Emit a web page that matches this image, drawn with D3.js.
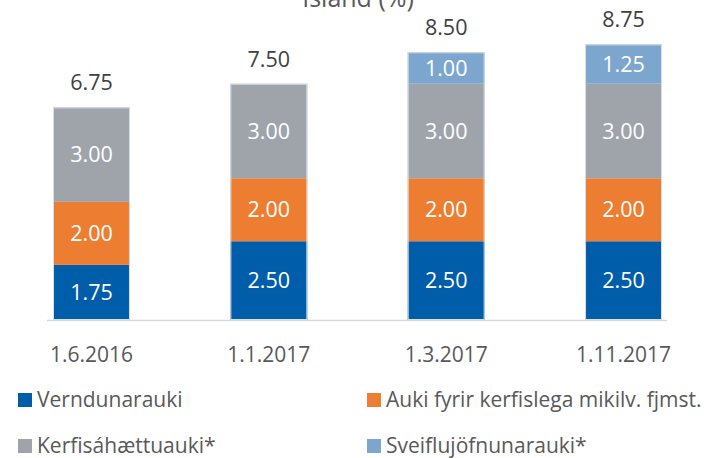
<!DOCTYPE html>
<html>
<head>
<meta charset="utf-8">
<script src="https://cdn.jsdelivr.net/npm/d3@7"></script>
<style>
  html, body { margin: 0; padding: 0; background: #fff; }
  svg { display: block; font-family: "Open Sans", "Lato", sans-serif; }
</style>
</head>
<body>
<svg id="chart" width="707" height="458"></svg>
<script>
const title = "Ísland (%)";
const categories = ["1.6.2016", "1.1.2017", "1.3.2017", "1.11.2017"];
const seriesNames = ["Verndunarauki", "Auki fyrir kerfislega mikilv. fjmst.", "Kerfisáhættuauki*", "Sveiflujöfnunarauki*"];
const verndunarauki = [1.75, 2.50, 2.50, 2.50];
const kerfislegaMikilv = [2.00, 2.00, 2.00, 2.00];
const kerfisahaettuauki = [3.00, 3.00, 3.00, 3.00];
const sveiflujofnunarauki = [0, 0, 1.00, 1.25];
const totals = [6.75, 7.50, 8.50, 8.75];
const colors = ["#005DAA", "#ED7D31", "#9EA4AA", "#7DA6CF"];

const seriesValues = [verndunarauki, kerfislegaMikilv, kerfisahaettuauki, sveiflujofnunarauki];
const rows = categories.map((c, i) => {
  const r = { cat: c, total: totals[i] };
  seriesNames.forEach((s, j) => r[s] = seriesValues[j][i]);
  return r;
});

const svg = d3.select("#chart");
const x = d3.scaleBand().domain(categories).range([53, 662]).paddingInner(0.566).paddingOuter(0);
const y = d3.scaleLinear().domain([0, 10]).range([320, 5]);

const stack = d3.stack().keys(seriesNames);
const stacked = stack(rows);

// baseline axis line
svg.append("line")
  .attr("x1", x(categories[0]) - 6).attr("x2", x(categories[3]) + x.bandwidth() + 5)
  .attr("y1", y(0) + 0.5).attr("y2", y(0) + 0.5)
  .attr("stroke", "#D9D9D9").attr("stroke-width", 1.5);

const layers = svg.append("g").selectAll("g").data(stacked).join("g")
  .attr("fill", (d, i) => colors[i]);

layers.selectAll("rect").data(d => d.filter(p => p[1] - p[0] > 0)).join("rect")
  .attr("x", d => x(d.data.cat))
  .attr("width", x.bandwidth())
  .attr("y", d => y(d[1]))
  .attr("height", d => y(d[0]) - y(d[1]));

// outline of each bar
svg.append("g").selectAll("rect").data(rows).join("rect")
  .attr("x", d => x(d.cat) + 0.5)
  .attr("width", x.bandwidth() - 1)
  .attr("y", d => y(d.total) + 0.5)
  .attr("height", d => y(0) - y(d.total) - 1)
  .attr("fill", "none").attr("stroke", "#D6DEE8").attr("stroke-width", 1);

// segment labels
layers.each(function(layer) {
  d3.select(this).selectAll("text").data(layer.filter(p => p[1] - p[0] > 0)).join("text")
    .attr("x", d => x(d.data.cat) + x.bandwidth() / 2)
    .attr("y", d => (y(d[0]) + y(d[1])) / 2)
    .attr("dy", "0.36em")
    .attr("text-anchor", "middle")
    .attr("fill", "#FFFFFF")
    .attr("font-size", 21.5)
    .text(d => (d[1] - d[0]).toFixed(2));
});

// totals
svg.append("g").selectAll("text").data(rows).join("text")
  .attr("x", d => x(d.cat) + x.bandwidth() / 2)
  .attr("y", d => y(d.total) - 17)
  .attr("text-anchor", "middle")
  .attr("fill", "#404040")
  .attr("font-size", 21.5)
  .text(d => d.total.toFixed(2));

// category labels
svg.append("g").selectAll("text").data(categories).join("text")
  .attr("x", d => x(d) + x.bandwidth() / 2)
  .attr("y", 362)
  .attr("text-anchor", "middle")
  .attr("fill", "#595959")
  .attr("font-size", 21)
  .text(d => d);

// title (cut off at top, as in the reference)
svg.append("text")
  .attr("x", 358).attr("y", 7)
  .attr("text-anchor", "middle")
  .attr("fill", "#595959")
  .attr("font-size", 25)
  .text(title);

// legend
const legendPos = [[18, 393], [367, 393], [18, 439], [367, 439]];
const lg = svg.append("g").selectAll("g").data(seriesNames).join("g")
  .attr("transform", (d, i) => `translate(${legendPos[i][0]},${legendPos[i][1]})`);
lg.append("rect").attr("width", 14).attr("height", 14).attr("fill", (d, i) => colors[i]);
lg.append("text").attr("x", 19).attr("y", 14).attr("fill", "#595959")
  .attr("font-size", 21).text(d => d);
</script>
</body>
</html>
